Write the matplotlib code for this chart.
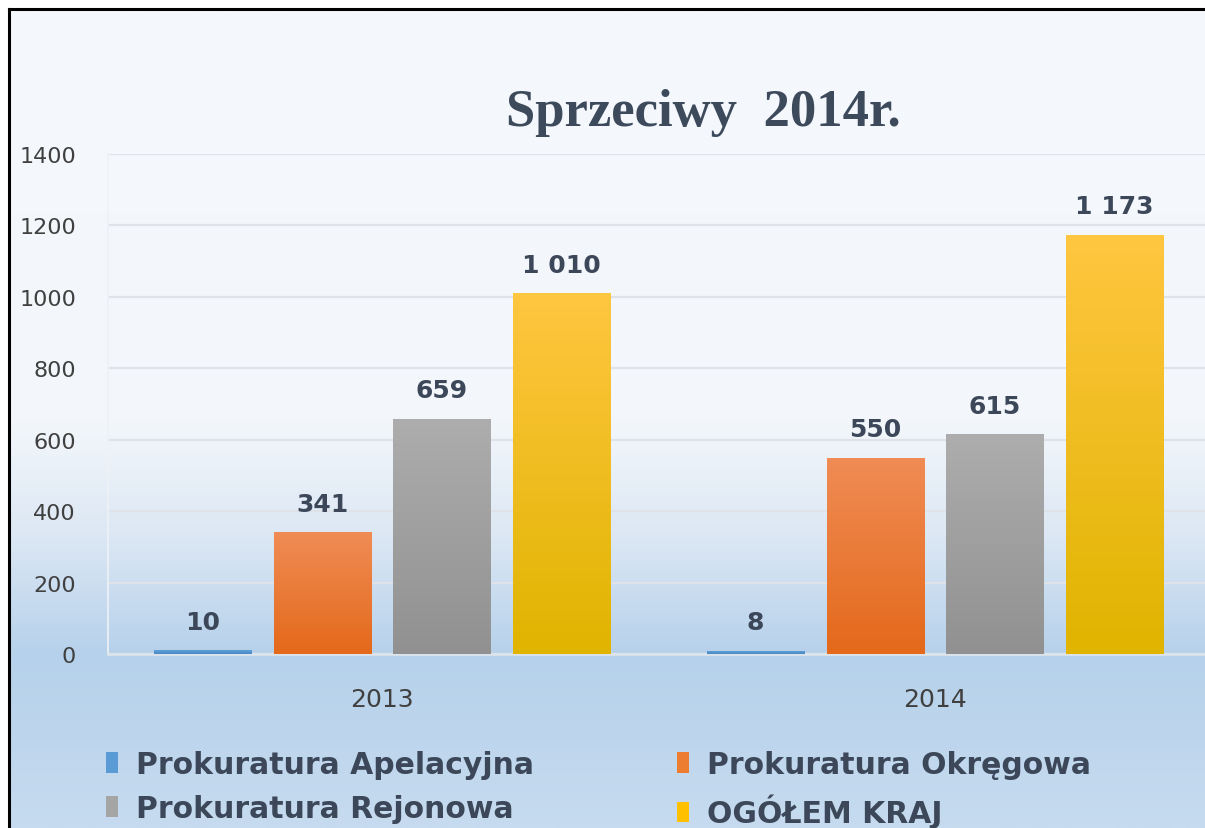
import numpy as np
import matplotlib
matplotlib.use("Agg")
import matplotlib.pyplot as plt
from matplotlib.colors import LinearSegmentedColormap
from matplotlib.patches import Patch
from matplotlib.lines import Line2D

# ---------------------------------------------------------
# Data
# ---------------------------------------------------------
years = ["2013", "2014"]
series_names = ["Prokuratura Apelacyjna", "Prokuratura Okręgowa",
                "Prokuratura Rejonowa", "OGÓŁEM KRAJ"]
apelacyjna = [10, 8]
okregowa = [341, 550]
rejonowa = [659, 615]
ogolem = [1010, 1173]
value_labels = [["10", "8"], ["341", "550"], ["659", "615"], ["1 010", "1 173"]]
y_ticks = [0, 200, 400, 600, 800, 1000, 1200, 1400]

series_values = [apelacyjna, okregowa, rejonowa, ogolem]

# top / bottom colours of each bar gradient, plus legend colour
bar_colors = [
    ("#5e9fd8", "#4a88c6", "#5b9bd5"),
    ("#f08c55", "#e4691b", "#ed7d31"),
    ("#adadad", "#919191", "#a5a5a5"),
    ("#ffc640", "#e0b400", "#ffc000"),
]
text_color = "#3c4859"

W, H = 1205, 829
fig = plt.figure(figsize=(W / 100, H / 100), dpi=100, facecolor="white")

# ---------------------------------------------------------
# Background gradient + black frame
# ---------------------------------------------------------
bg_cmap = LinearSegmentedColormap.from_list(
    "bg",
    [(0.0, "#f5f8fc"), (0.5, "#f3f7fb"), (0.64, "#dde8f4"),
     (0.79, "#b6d1eb"), (1.0, "#c6dbef")],
)
bg = fig.add_axes([0, 0, 1, 1], zorder=0)
grad = np.linspace(0, 1, 400).reshape(-1, 1)
bg.imshow(grad, cmap=bg_cmap, aspect="auto", extent=[9 / W, 1, 0, 1 - 10 / H],
          origin="upper")
bg.set_xlim(0, 1)
bg.set_ylim(0, 1)
bg.axis("off")
fig.add_artist(Line2D([9 / W, 9 / W], [0, 1 - 10 / H], transform=fig.transFigure,
                      color="black", lw=2.2))
fig.add_artist(Line2D([9 / W, 1], [1 - 10 / H, 1 - 10 / H], transform=fig.transFigure,
                      color="black", lw=2.2))

# ---------------------------------------------------------
# Main axes
# ---------------------------------------------------------
ax_left, ax_bottom, ax_top = 108, 655, 155
ax = fig.add_axes([ax_left / W, 1 - ax_bottom / H, 1 - ax_left / W,
                   (ax_bottom - ax_top) / H], zorder=1)
ax.patch.set_alpha(0)

x = np.arange(len(years))
width = 0.1755
step = 0.2165

for i, (vals, labels, (ctop, cbot, _)) in enumerate(zip(series_values, value_labels, bar_colors)):
    pos = x + (i - 1.5) * step
    bars = ax.bar(pos, vals, width, color=cbot, zorder=3, linewidth=0)
    cmap = LinearSegmentedColormap.from_list(f"b{i}", [cbot, ctop])
    for b in bars:
        x0, y0 = b.get_x(), b.get_y()
        im = ax.imshow(np.linspace(0, 1, 100).reshape(-1, 1), cmap=cmap,
                       aspect="auto", origin="lower",
                       extent=[x0, x0 + b.get_width(), y0, y0 + b.get_height()],
                       zorder=3)
        im.set_clip_path(b)
    for p, v, lab in zip(pos, vals, labels):
        ax.annotate(lab, (p, v), xytext=(0, 12), textcoords="offset points",
                    ha="center", va="bottom", fontsize=18, fontweight="bold",
                    color=text_color, zorder=4)

ax.set_xlim(-0.4955, 1.4885)
ax.set_ylim(0, 1400)
ax.set_yticks(y_ticks)
ax.set_xticks(x)
ax.set_xticklabels(years)
ax.tick_params(axis="y", length=0, pad=23, labelsize=16, labelcolor="#404040")
ax.tick_params(axis="x", length=0, pad=24, labelsize=18, labelcolor="#404040")
ax.grid(axis="y", color="#dfe3e9", lw=1.6, zorder=1)
for s in ["top", "right"]:
    ax.spines[s].set_visible(False)
ax.spines["left"].set_color("#eef2f7")
ax.spines["left"].set_linewidth(1.2)
ax.spines["bottom"].set_color("#dce3ea")
ax.spines["bottom"].set_linewidth(2)

# ---------------------------------------------------------
# Title + legend
# ---------------------------------------------------------
fig.text(703 / W, 1 - 113 / H, "Sprzeciwy  2014r.", ha="center", va="center",
         family="Liberation Serif", fontweight="bold", fontsize=38, color="#3d4a5c")

handles = [Patch(facecolor=c[2], edgecolor="none") for c in bar_colors]
order = [0, 2, 1, 3]
fig.legend([handles[k] for k in order], [series_names[k] for k in order],
           ncol=2, loc="upper left", bbox_to_anchor=(106 / W, 1 - 751 / H),
           frameon=False, borderpad=0, borderaxespad=0,
           prop={"size": 21.5, "weight": "bold"}, labelcolor=text_color,
           handlelength=0.4, handleheight=0.7, handletextpad=0.6,
           columnspacing=4.8, labelspacing=0.5)

fig.savefig("out.png", dpi=100, facecolor="white")
